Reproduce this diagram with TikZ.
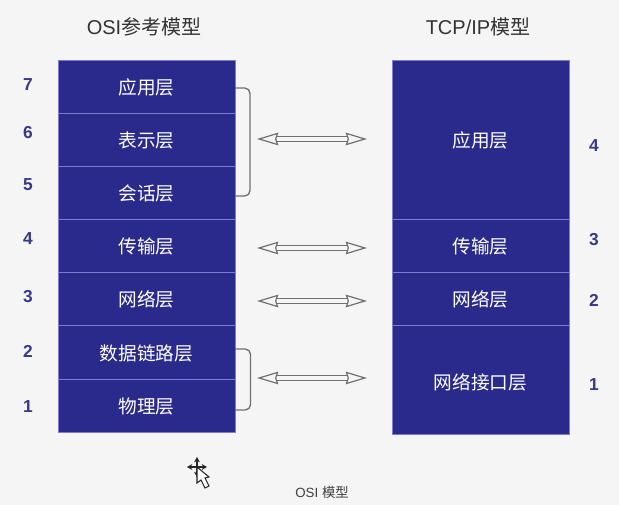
\documentclass[tikz,border=0pt]{standalone}
\usepackage{fontspec}
\setmainfont{Liberation Sans}
\newfontfamily\cjk{Noto Sans CJK SC}
\usetikzlibrary{arrows.meta}
\definecolor{pagebg}{HTML}{F5F5F5}
\definecolor{layerblue}{HTML}{2A2A8C}
\definecolor{seamblue}{HTML}{7C7CD0}
\definecolor{numblue}{HTML}{38388C}
\definecolor{arrowgray}{HTML}{707070}
\tikzset{
  layerbox/.style={draw=seamblue,line width=0.6pt,fill=layerblue,text=white,
    minimum width=132.75pt,minimum height=#1*0.75pt,inner sep=0pt,text height=14pt,text depth=1.5pt,
    font=\cjk\fontsize{14}{16}\selectfont},
  layernum/.style={text=numblue,font=\bfseries\fontsize{13}{15}\selectfont},
  modeltitle/.style={text=black!80,font=\fontsize{15}{18}\selectfont},
  bracket/.style={draw=arrowgray,line width=1pt,rounded corners=4pt},
  linkarrow/.style={draw=arrowgray,line width=0.9pt,double=pagebg,double distance=3.2pt,
    {Stealth[open,fill=pagebg,length=16pt,width=9.5pt,inset=1.5pt]}-{Stealth[open,fill=pagebg,length=16pt,width=9.5pt,inset=1.5pt]}},
}
\begin{document}
\begin{tikzpicture}[x=0.75pt,y=-0.75pt]
\useasboundingbox (0,0) rectangle (619,505);
\fill[pagebg] (0,0) rectangle (619,505);
% left stack
\node[layerbox=53] (osi7) at (146.5,86.5) {应用层};
\node[layerbox=53] (osi6) at (146.5,139.5) {表示层};
\node[layerbox=53] (osi5) at (146.5,192.5) {会话层};
\node[layerbox=53] (osi4) at (146.5,245.5) {传输层};
\node[layerbox=53] (osi3) at (146.5,298.5) {网络层};
\node[layerbox=54] (osi2) at (146.5,352) {数据链路层};
\node[layerbox=53] (osi1) at (146.5,405.5) {物理层};
% right stack
\node[layerbox=159] (tcp4) at (480.5,139.5) {应用层};
\node[layerbox=53] (tcp3) at (480.5,245.5) {传输层};
\node[layerbox=53] (tcp2) at (480.5,298.5) {网络层};
\node[layerbox=109] (tcp1) at (480.5,379.5) {\raisebox{-1pt}{网络接口层}};
% titles
\node[modeltitle] (osititle) at (144,27) {OSI{\cjk 参考模型}};
\node[modeltitle] (tcptitle) at (478,27) {TCP/IP{\cjk 模型}};
\node[font=\fontsize{10}{12}\selectfont,text=black!75] (caption) at (322,492) {OSI {\cjk 模型}};
% layer numbers
\node[layernum] (n7) at (28,85) {7};
\node[layernum] (n6) at (28,133) {6};
\node[layernum] (n5) at (28,185) {5};
\node[layernum] (n4) at (28,239) {4};
\node[layernum] (n3) at (28,297) {3};
\node[layernum] (n2) at (28,351) {2};
\node[layernum] (n1) at (28,407) {1};
\node[layernum] (m4) at (594,146) {4};
\node[layernum] (m3) at (594,240) {3};
\node[layernum] (m2) at (594,300) {2};
\node[layernum] (m1) at (594,385) {1};
% brackets
\draw[bracket] (235,88) -- (250,88) -- (250,196) -- (235,196);
\draw[bracket] (235,349) -- (250.5,349) -- (250.5,410) -- (235,410);
% arrows
\coordinate (a6) at (257,139);
\coordinate (b4) at (367,139);
\coordinate (a4) at (257,248);
\coordinate (b3) at (367,248);
\coordinate (a3) at (257,301);
\coordinate (b2) at (367,301);
\coordinate (a2) at (257,378);
\coordinate (b1) at (367,378);
\draw[linkarrow] (a6) -- (b4);
\draw[linkarrow] (a4) -- (b3);
\draw[linkarrow] (a3) -- (b2);
\draw[linkarrow] (a2) -- (b1);
% mouse cursor
\draw[black!85,line width=0.8pt,{Stealth[length=4pt,width=4.5pt]}-{Stealth[length=4pt,width=4.5pt]}] (187,467) -- (207,467);
\draw[black!85,line width=0.8pt,{Stealth[length=4pt,width=4.5pt]}-{Stealth[length=4pt,width=4.5pt]}] (197,457) -- (197,477);
\draw[black!85,fill=white,line width=0.8pt] (197,467) -- (197,483) -- (201,480) -- (205,488) -- (209,486) -- (205,478) -- (209,477) -- cycle;
\end{tikzpicture}
\end{document}
